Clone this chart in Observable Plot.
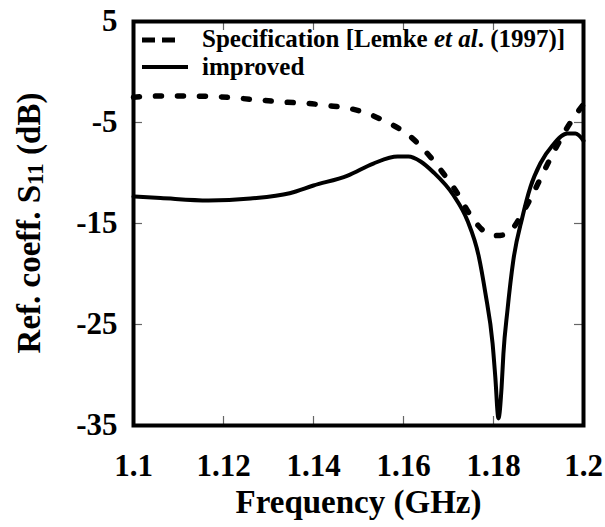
<!DOCTYPE html>
<html><head><meta charset="utf-8">
<script src="https://cdn.jsdelivr.net/npm/d3@7"></script>
<script src="https://cdn.jsdelivr.net/npm/@observablehq/plot@0.6"></script>
<style>body{margin:0;background:#fff}</style>
</head><body><div id="chart"></div>
<script>
// Specification [Lemke et al. (1997)] (dashed)
const specFreq = [1.100, 1.106, 1.112, 1.118, 1.124, 1.129, 1.134, 1.139, 1.143, 1.148, 1.152, 1.156, 1.1607, 1.1647, 1.1687, 1.172, 1.1749, 1.1787, 1.1809, 1.1831, 1.1864, 1.1889, 1.1913, 1.1938, 1.1964, 1.1993, 1.2];
const specS11 = [-2.5, -2.38, -2.38, -2.43, -2.62, -2.82, -2.99, -3.12, -3.32, -3.61, -4.11, -4.9, -6.09, -7.77, -9.95, -12.03, -14.2, -15.99, -16.2, -15.99, -14.0, -11.93, -9.75, -7.57, -5.5, -3.61, -3.2];
// improved (solid)
const impFreq = [1.100, 1.106, 1.1167, 1.126, 1.1347, 1.14, 1.1476, 1.1533, 1.1587, 1.1611, 1.1638, 1.1667, 1.1711, 1.1742, 1.1767, 1.1782, 1.1798, 1.1804, 1.1811, 1.1818, 1.1822, 1.1831, 1.1844, 1.1864, 1.1882, 1.1904, 1.1931, 1.1964, 1.1982, 1.2];
const impS11 = [-12.33, -12.48, -12.72, -12.52, -12.0, -11.24, -10.25, -9.06, -8.37, -8.37, -8.86, -9.95, -12.2, -14.7, -18.2, -21.9, -26.9, -30.2, -34.3, -31.2, -27.9, -23.6, -18.66, -14.4, -11.4, -9.06, -7.28, -6.1, -6.1, -6.8];

const xTicks = [1.1, 1.12, 1.14, 1.16, 1.18, 1.2];
const xTickLabels = ["1.1", "1.12", "1.14", "1.16", "1.18", "1.2"];
const yTicks = [5, -5, -15, -25, -35];
const yTickLabels = ["5", "-5", "-15", "-25", "-35"];
const innerXTicks = [1.12, 1.14, 1.16, 1.18];
const innerYTicks = [-5, -15, -25];
const xLabel = "Frequency (GHz)";
const yLabelParts = ["Ref. coeff. S", "11", " (dB)"];
const legendSpec = ["Specification [Lemke ", "et al", ". (1997)]"];
const legendImp = "improved";

const spec = specFreq.map((f, i) => ({f, s: specS11[i]}));
const imp = impFreq.map((f, i) => ({f, s: impS11[i]}));

const W = 605, H = 527, mL = 133, mR = 22, mT = 21, mB = 102;
const fw = W - mL - mR, fh = H - mT - mB;
const font = "'Liberation Serif','Times New Roman',Times,serif";
const tick = 9;

const plot = Plot.plot({
  width: W, height: H,
  marginLeft: mL, marginRight: mR, marginTop: mT, marginBottom: mB,
  style: {fontFamily: font, background: "#fff", color: "#000", overflow: "visible"},
  x: {domain: [1.1, 1.2]},
  y: {domain: [-35, 5]},
  marks: [
    Plot.ruleX(innerXTicks, {stroke: "#666", strokeWidth: 1.2, insetTop: fh - tick}),
    Plot.ruleX(innerXTicks, {stroke: "#666", strokeWidth: 1.2, insetBottom: fh - tick}),
    Plot.ruleY(innerYTicks, {stroke: "#666", strokeWidth: 1.2, insetRight: fw - tick}),
    Plot.ruleY(innerYTicks, {stroke: "#666", strokeWidth: 1.2, insetLeft: fw - tick}),
    Plot.line(spec, {x: "f", y: "s", curve: "monotone-x", stroke: "#000", strokeWidth: 5.5, strokeDasharray: "6,16", strokeLinecap: "round"}),
    Plot.line(imp, {x: "f", y: "s", curve: "monotone-x", stroke: "#000", strokeWidth: 4}),
    Plot.frame({stroke: "#000", strokeWidth: 4}),
    Plot.axisX({ticks: xTicks, tickFormat: d => xTickLabels[xTicks.indexOf(d)], tickSize: 0, tickPadding: 28, fontSize: 31, fontWeight: "bold", label: null}),
    Plot.axisY({ticks: yTicks, tickFormat: d => yTickLabels[yTicks.indexOf(d)], tickSize: 0, tickPadding: 16, fontSize: 31, fontWeight: "bold", label: null}),
    Plot.text([xLabel], {frameAnchor: "bottom", lineAnchor: "middle", dy: 77, fontSize: 33, fontWeight: "bold", fill: "#000"})
  ]
});

const svg = d3.select(plot);
// y-axis label
const yl = svg.append("text")
  .attr("transform", `translate(40,${mT + fh / 2}) rotate(-90)`)
  .attr("text-anchor", "middle")
  .attr("font-family", font).attr("font-weight", "bold").attr("font-size", 33).attr("fill", "#000");
yl.append("tspan").text(yLabelParts[0]);
yl.append("tspan").attr("font-size", 23).attr("dy", 3).text(yLabelParts[1]);
yl.append("tspan").attr("dy", -3).text(yLabelParts[2]);

// legend
const lg = svg.append("g");
lg.append("line").attr("x1", 142).attr("x2", 175).attr("y1", 40).attr("y2", 40)
  .attr("stroke", "#000").attr("stroke-width", 5).attr("stroke-dasharray", "13,7");
lg.append("line").attr("x1", 142).attr("x2", 188).attr("y1", 67).attr("y2", 67)
  .attr("stroke", "#000").attr("stroke-width", 4);
const t1 = lg.append("text").attr("x", 202).attr("y", 47).attr("text-anchor", "start")
  .attr("font-family", font).attr("font-weight", "bold").attr("font-size", 25).attr("fill", "#000");
t1.append("tspan").text(legendSpec[0]);
t1.append("tspan").attr("font-style", "italic").text(legendSpec[1]);
t1.append("tspan").text(legendSpec[2]);
lg.append("text").attr("x", 202).attr("y", 75).attr("text-anchor", "start")
  .attr("font-family", font).attr("font-weight", "bold").attr("font-size", 25).attr("fill", "#000")
  .text(legendImp);

document.getElementById("chart").appendChild(plot);
</script>
</body></html>
